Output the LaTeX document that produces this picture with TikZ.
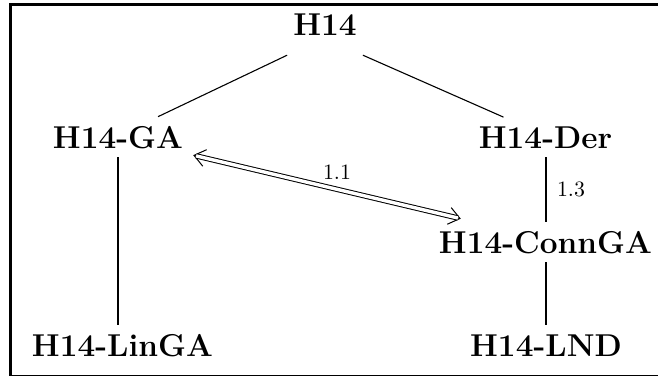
\documentclass[tikz,border=0pt]{standalone}
\usetikzlibrary{arrows.meta}
\begin{document}
\begin{tikzpicture}[x=1pt,y=-1pt,
  term/.style={font=\fontsize{31.6}{38}\selectfont\bfseries, anchor=base,
    inner xsep=6pt, inner ysep=9pt, text depth=0pt},
  lbl/.style={font=\fontsize{10}{12}\selectfont, inner sep=0pt, scale=2.19},
  slant/.style={line width=1.1pt},
  upright/.style={line width=2pt},
  barb/.style={line width=1pt, line cap=round,
    {Straight Barb[length=11pt,width=17pt]}-{Straight Barb[length=11pt,width=17pt]}},
  equiv/.style={double, double distance=3.4pt, line width=1pt,
    shorten <=3pt, shorten >=3pt}]
\useasboundingbox (0,0) rectangle (658,375);
% outer frame, running past the right and bottom edges of the page
\draw[line width=3pt] (700,4.5) -- (10.5,4.5) -- (10.5,376.6) -- (700,376.6);

% terms
\node[term, inner ysep=20pt] (h14) at (325,35) {H14};
\node[term] (ga)    at (118,148)   {H14-GA};
\node[term] (der)   at (545.5,148) {H14-Der};
\node[term] (conn)  at (545.5,253) {H14-ConnGA};
\node[term] (lin)   at (122.5,356) {H14-LinGA};
\node[term] (lnd)   at (546,356)   {H14-LND};

% tree edges
\draw[slant] (h14.south west) -- ([xshift=40pt]ga.north);
\draw[slant] (h14.south east) -- ([xshift=-42pt]der.north);
\draw[upright] (ga.south) -- (ga.south |- lin.north);
\draw[upright] (der.south) -- (der.south |- conn.north);
\draw[upright] (conn.south) -- (conn.south |- lnd.north);

% equivalence arrow: open barbs first, the double line laid over them
\coordinate (eqa) at ([xshift=4pt,yshift=2pt]ga.south east);
\coordinate (eqb) at ([xshift=28pt,yshift=3pt]conn.north west);
\draw[barb] (eqa) -- (eqb);
\draw[equiv] (eqa) -- (eqb);
\node[lbl] (l11) at (337,172) {1.1};
\node[lbl] (l13) at (571,189) {1.3};
\end{tikzpicture}
\end{document}
